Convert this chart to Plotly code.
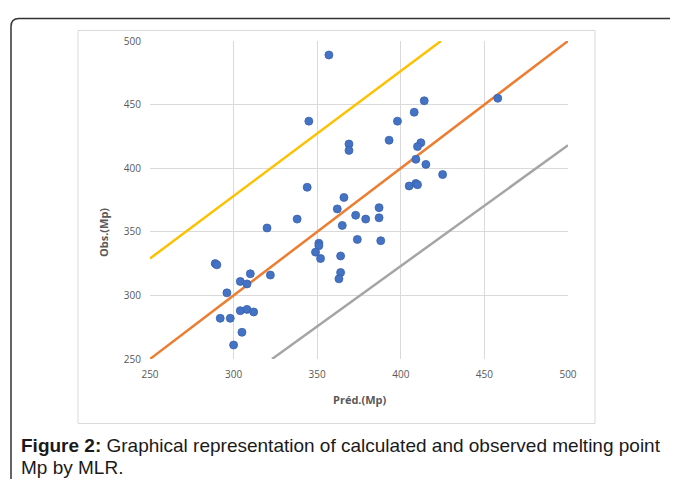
import plotly.graph_objects as go

pred = [357, 345, 369, 369, 344, 366, 414, 408, 398, 458, 393, 412, 410, 409, 415,
        425, 405, 409, 410, 289, 290, 320, 338, 362, 373, 365, 351, 351, 349, 352,
        364, 364, 363, 374, 310, 322, 304, 308, 296, 292, 298, 304, 308, 312, 305,
        300, 387, 379, 387, 388]
obs = [489, 437, 419, 414, 385, 377, 453, 444, 437, 455, 422, 420, 417, 407, 403,
       395, 386, 388, 387, 325, 324, 353, 360, 368, 363, 355, 341, 339, 334, 329,
       331, 318, 313, 344, 317, 316, 311, 309, 302, 282, 282, 288, 289, 287, 271,
       261, 369, 360, 361, 343]

line_ideal_x = [250, 500]
line_ideal_y = [250, 500]
line_upper_x = [250, 424]
line_upper_y = [329, 500]
line_lower_x = [323, 500]
line_lower_y = [250, 418]

axis_ticks = [250, 300, 350, 400, 450, 500]

OFF = 8  # page body margin
W, H = 678 - OFF, 479 - OFF
L, R, T, B = 150 - OFF, 568 - OFF, 40.5 - OFF, 359.3 - OFF

def px(x):
    return (x - OFF - L) / (R - L)

def py(y):
    return (B - (y - OFF)) / (B - T)

fig = go.Figure()
fig.add_trace(go.Scatter(x=line_upper_x, y=line_upper_y, mode="lines",
                         line=dict(color="#FFC000", width=2.5), hoverinfo="skip"))
fig.add_trace(go.Scatter(x=line_ideal_x, y=line_ideal_y, mode="lines",
                         line=dict(color="#ED7D31", width=2.5), hoverinfo="skip"))
fig.add_trace(go.Scatter(x=line_lower_x, y=line_lower_y, mode="lines",
                         line=dict(color="#A5A5A5", width=2.5), hoverinfo="skip"))
fig.add_trace(go.Scatter(x=pred, y=obs, mode="markers",
                         marker=dict(color="#4472C4", size=8,
                                     line=dict(color="#3A62AD", width=0.8))))

axis_common = dict(range=[250, 500], tickvals=axis_ticks, showgrid=True,
                   gridcolor="#D9D9D9", gridwidth=1, zeroline=False,
                   showline=False, ticks="", ticklabelstandoff=8,
                   tickfont=dict(family="Open Sans", size=10, color="#595959"),
                   fixedrange=True)
fig.update_xaxes(**axis_common)
fig.update_yaxes(**axis_common)

# outer rounded frame
r = 8
x0, y0 = 11, 18
path = (f"M {px(x0)} {py(H + 40)} L {px(x0)} {py(y0 + r)} "
        f"Q {px(x0)} {py(y0)} {px(x0 + r)} {py(y0)} L {px(W + 40)} {py(y0)}")
shapes = [
    dict(type="path", path=path, xref="paper", yref="paper",
         line=dict(color="#333333", width=1.5)),
    dict(type="rect", xref="paper", yref="paper",
         x0=px(78), x1=px(595), y0=py(424), y1=py(30),
         line=dict(color="#D9D9D9", width=1), layer="below"),
]

annotations = [
    dict(text="<b>Obs.(Mp)</b>", x=px(103), y=py(233), xref="paper", yref="paper",
         xanchor="center", yanchor="middle",
         showarrow=False, textangle=-90,
         font=dict(family="Open Sans", size=11, color="#595959")),
    dict(text="<b>Préd.(Mp)</b>", x=px(360), y=py(400), xref="paper", yref="paper",
         xanchor="center", yanchor="middle",
         showarrow=False, font=dict(family="Open Sans", size=11, color="#595959")),
    dict(text="<b>Figure 2:</b> Graphical representation of calculated and observed melting point",
         x=px(19), y=py(446), xref="paper", yref="paper", xanchor="left",
         yanchor="middle",
         showarrow=False, font=dict(family="Liberation Sans", size=19, color="#1a1a1a")),
    dict(text="Mp by MLR.", x=px(19), y=py(468), xref="paper", yref="paper",
         xanchor="left", yanchor="middle", showarrow=False,
         font=dict(family="Liberation Sans", size=19, color="#1a1a1a")),
]

fig.update_layout(width=W, height=H, margin=dict(l=L, r=W - R, t=T, b=H - B),
                  paper_bgcolor="white", plot_bgcolor="white", showlegend=False,
                  shapes=shapes, annotations=annotations)

fig.write_html("out.html")
